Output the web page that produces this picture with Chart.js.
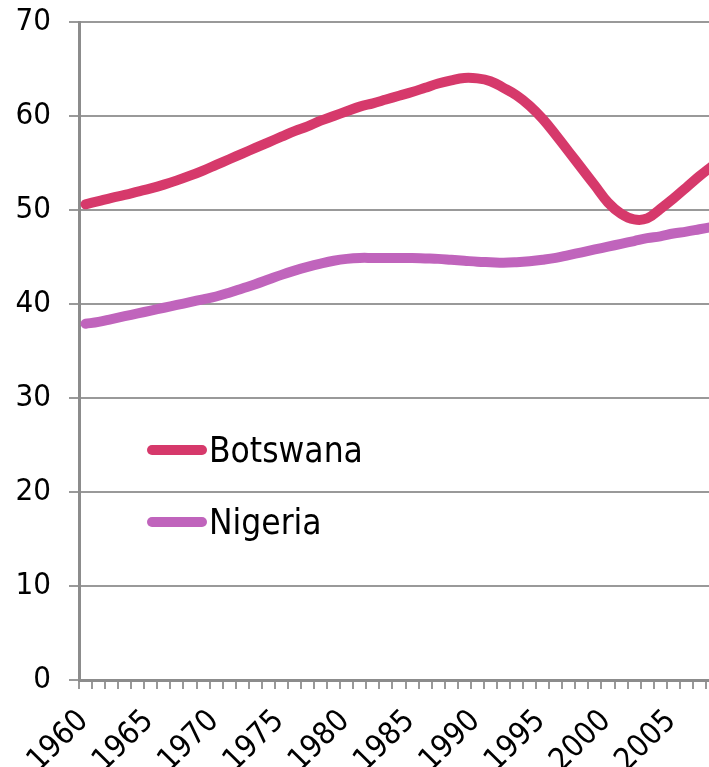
<!DOCTYPE html>
<html>
<head>
<meta charset="utf-8">
<script src="https://cdn.jsdelivr.net/npm/chart.js@4"></script>
<style>
    html, body { margin: 0; padding: 0; background: #fff; overflow: hidden; }
    #wrap { position: relative; width: 719px; height: 767px; }
    #legend { position: absolute; left: 147px; top: 425px; font-family: "DejaVu Sans Condensed", "DejaVu Sans", sans-serif; font-size: 35px; color: #000; }
    .item { display: flex; align-items: center; height: 50px; margin-bottom: 22px; }
    .swatch { width: 60px; height: 10px; border-radius: 5px; margin-right: 2px; }
</style>
</head>
<body>
<div id="wrap">
    <canvas id="myChart"></canvas>
    <div id="legend"></div>
</div>
<script>
// years on the category axis
const years = [];
for (let y = 1960; y <= 2008; y++) years.push(String(y));

// life expectancy
const botswanaValues = [
    50.6, 50.95, 51.3, 51.6, 51.95, 52.3, 52.7, 53.15, 53.65, 54.2,
    54.8, 55.4, 56.0, 56.6, 57.2, 57.8, 58.4, 58.9, 59.5, 60.0,
    60.5, 61.0, 61.35, 61.75, 62.15, 62.55, 63.0, 63.45, 63.8, 64.05,
    64.0, 63.7, 63.0, 62.2, 61.1, 59.7, 58.0, 56.2, 54.4, 52.6,
    50.8, 49.6, 49.0, 49.1, 50.1, 51.2, 52.4, 53.6, 54.7
];
const nigeriaValues = [
    37.9, 38.1, 38.4, 38.7, 39.0, 39.3, 39.6, 39.9, 40.2, 40.5,
    40.8, 41.2, 41.65, 42.1, 42.6, 43.1, 43.55, 43.95, 44.3, 44.6,
    44.8, 44.9, 44.9, 44.9, 44.9, 44.9, 44.85, 44.8, 44.7, 44.6,
    44.5, 44.45, 44.4, 44.45, 44.55, 44.7, 44.9, 45.2, 45.5, 45.8,
    46.1, 46.4, 46.7, 47.0, 47.2, 47.5, 47.7, 47.95, 48.2
];
const seriesNames = ["Botswana", "Nigeria"];
const seriesColors = ["#d6396b", "#c064bc"];

const tickFont = { family: "'DejaVu Sans Condensed', 'DejaVu Sans', sans-serif", size: 31 };

const canvas = document.getElementById("myChart");
const chart = new Chart(canvas, {
    type: "line",
    data: {
        labels: years,
        datasets: [
            { label: seriesNames[0], data: botswanaValues, borderColor: seriesColors[0] },
            { label: seriesNames[1], data: nigeriaValues, borderColor: seriesColors[1] }
        ]
    },
    options: {
        responsive: true,
        maintainAspectRatio: false,
        animation: false,
        layout: { padding: { top: 22, left: 0, right: 0, bottom: 0 } },
        elements: {
            line: { borderWidth: 10, tension: 0.4, borderCapStyle: "round", borderJoinStyle: "round" },
            point: { radius: 0 }
        },
        plugins: {
            legend: { display: false },
            tooltip: { enabled: false }
        },
        scales: {
            x: {
                type: "category",
                offset: true,
                grid: { offset: true, drawOnChartArea: false, drawTicks: true, tickLength: 9, color: "#999", lineWidth: 2 },
                border: { color: "#8c8c8c", width: 3 },
                ticks: {
                    autoSkip: false,
                    maxRotation: 45,
                    minRotation: 45,
                    padding: 14,
                    labelOffset: -2,
                    color: "#000",
                    font: tickFont,
                    callback: function (value) {
                        const yr = Number(this.getLabelForValue(value));
                        return yr % 5 === 0 ? String(yr) : "";
                    }
                },
                afterFit: function (scale) {
                    scale.height = 87;
                    scale.paddingLeft = 0;
                    scale.paddingRight = 0;
                }
            },
            y: {
                min: 0,
                max: 70,
                ticks: { stepSize: 10, color: "#000", font: tickFont, padding: 18 },
                grid: { color: "#999", lineWidth: 2, tickLength: 10 },
                border: { color: "#8c8c8c", width: 3 },
                afterFit: function (scale) {
                    scale.width = 79;
                    scale.paddingTop = 0;
                    scale.paddingBottom = 0;
                }
            }
        }
    }
});

// legend drawn inside the plot, from the dataset names and colours
const legend = document.getElementById("legend");
chart.data.datasets.forEach(ds => {
    const item = document.createElement("div");
    item.className = "item";
    const sw = document.createElement("span");
    sw.className = "swatch";
    sw.style.background = ds.borderColor;
    const txt = document.createElement("span");
    txt.textContent = ds.label;
    item.appendChild(sw);
    item.appendChild(txt);
    legend.appendChild(item);
});
</script>
</body>
</html>
